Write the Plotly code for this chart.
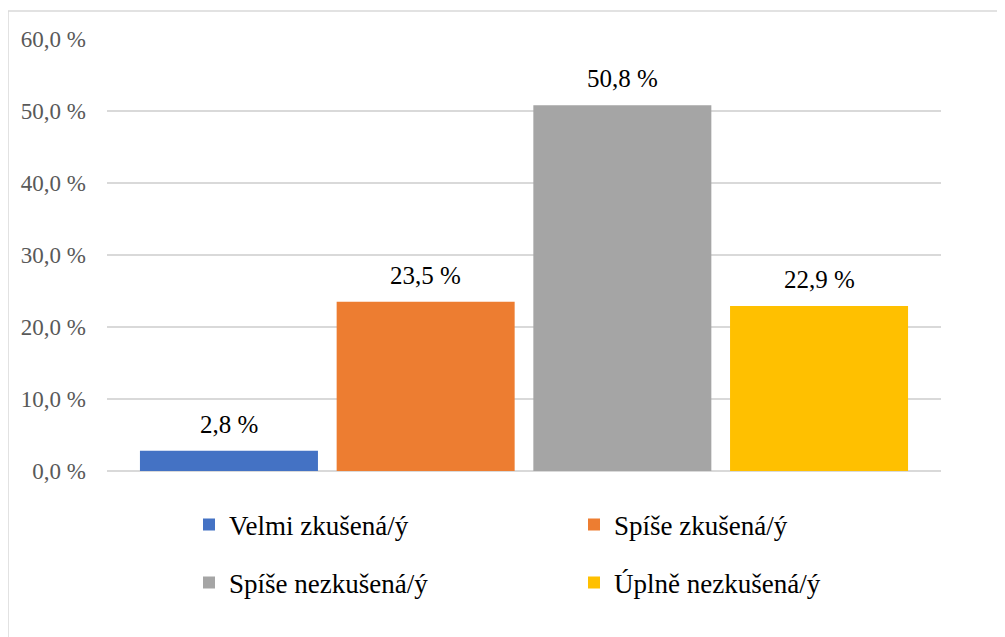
import plotly.graph_objects as go

categories = ["Velmi zkušená/ý", "Spíše zkušená/ý", "Spíše nezkušená/ý", "Úplně nezkušená/ý"]
values = [2.8, 23.5, 50.8, 22.9]
colors = ["#4472C4", "#ED7D31", "#A5A5A5", "#FFC000"]
tick_vals = [0, 10, 20, 30, 40, 50, 60]
tick_text = ["0,0 %", "10,0 %", "20,0 %", "30,0 %", "40,0 %", "50,0 %", "60,0 %"]
legend_ids = ["legend", "legend", "legend2", "legend2"]

FONT = "Liberation Serif"

fig = go.Figure()
for name, v, c, lg in zip(categories, values, colors, legend_ids):
    fig.add_trace(go.Bar(
        x=[name], y=[v], name=name, marker=dict(color=c, line=dict(width=0)),
        legend=lg,
    ))
    fig.add_annotation(x=name, y=v, text=f"{v:.1f} %".replace(".", ","),
                       showarrow=False, yanchor="middle", yshift=26.5,
                       font=dict(family=FONT, size=25, color="#000000"))

W, H = 1005, 637
PAGE = 8  # body margin of the page
fig.update_layout(
    width=W, height=H,
    margin=dict(l=107 - PAGE, r=64 + PAGE, t=39 - PAGE, b=166 + PAGE),
    paper_bgcolor="white", plot_bgcolor="white",
    font=dict(family=FONT, color="#000000"),
    barmode="overlay", bargap=0.095,
    xaxis=dict(showticklabels=False, showgrid=False, zeroline=False, showline=False,
               ticks="", range=[-0.62, 3.62]),
    yaxis=dict(range=[0, 60], tickvals=tick_vals, ticktext=tick_text,
               showgrid=True, gridcolor="#D9D9D9", gridwidth=1.5,
               zeroline=True, zerolinecolor="#D9D9D9", zerolinewidth=1.5,
               tickfont=dict(family=FONT, size=23, color="#595959"),
               ticks="", ticklabelstandoff=20),
    legend=dict(orientation="h", xref="container", yref="container",
                x=181 / W, y=1 - (525 - PAGE) / H, xanchor="left", yanchor="middle",
                entrywidth=340, entrywidthmode="pixels",
                font=dict(family=FONT, size=27, color="#000000"), bgcolor="rgba(0,0,0,0)"),
    legend2=dict(orientation="h", xref="container", yref="container",
                 x=181 / W, y=1 - (583 - PAGE) / H, xanchor="left", yanchor="middle",
                 entrywidth=340, entrywidthmode="pixels",
                 font=dict(family=FONT, size=27, color="#000000"), bgcolor="rgba(0,0,0,0)"),
    shapes=[dict(type="rect", xref="paper", yref="paper",
                 x0=(8 - 107) / 834, x1=(1012 - 107) / 834,
                 y0=(471 - 645) / 432, y1=(471 - 11) / 432,
                 line=dict(color="#D9D9D9", width=1.5), fillcolor="rgba(0,0,0,0)", layer="below")],
)

fig.write_html("out.html")
